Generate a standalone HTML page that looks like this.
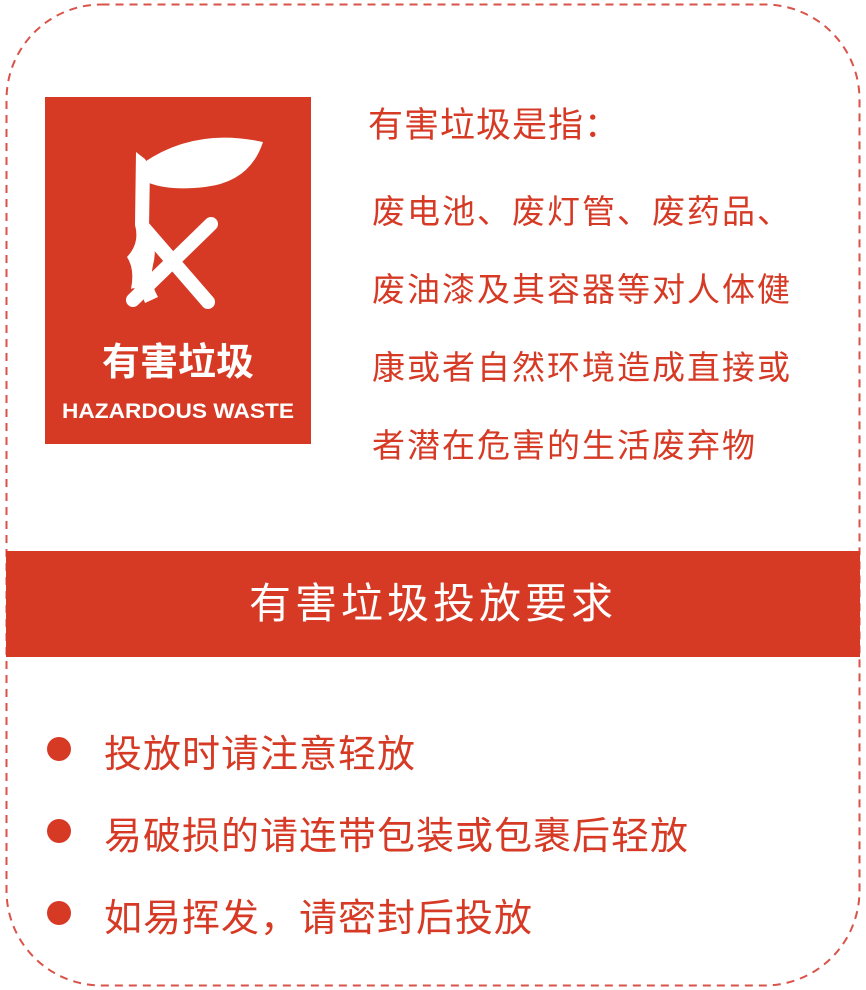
<!DOCTYPE html>
<html><head><meta charset="utf-8"><style>
html,body{margin:0;padding:0;background:#fff;}
body{width:866px;height:990px;overflow:hidden;position:relative;font-family:"Liberation Sans","Noto Sans CJK SC",sans-serif;}
.t{position:absolute;color:#d63a25;white-space:nowrap;}
</style></head><body>
<svg width="866" height="990" style="position:absolute;left:0;top:0">
<rect x="6.5" y="4.5" width="853" height="981" rx="95" ry="95" fill="none" stroke="#d9534a" stroke-width="2" stroke-dasharray="8,6"/>
</svg>
<svg width="266" height="347" style="position:absolute;left:45px;top:97px">
<rect width="266" height="347" fill="#d63a25"/>
<path d="M98 66 Q150 30 218 45 Q205 85 160 90 Q125 94 104 86 Z" fill="#fff"/>
<path d="M91 55 L100 62 L105 70 L104 130 Q113 150 108 168 Q104 185 113 200 L100 206 Q94 188 86 192 Q90 172 82 160 Q95 146 90 128 Z" fill="#fff"/>
<line x1="88" y1="203" x2="166" y2="127" stroke="#fff" stroke-width="14" stroke-linecap="round"/>
<line x1="98" y1="130" x2="163" y2="205" stroke="#fff" stroke-width="14" stroke-linecap="round"/>
<text x="133" y="278" text-anchor="middle" fill="#fff" font-size="38" font-weight="bold" font-family="Liberation Sans, Noto Sans CJK SC, sans-serif">有害垃圾</text>
<text x="17" y="321" textLength="232" lengthAdjust="spacingAndGlyphs" fill="#fff" font-size="21" font-weight="bold" font-family="Liberation Sans, sans-serif">HAZARDOUS WASTE</text>
</svg>
<div class="t" style="left:368px;top:97px;font-size:35px;letter-spacing:1px;">有害垃圾是指：</div>
<div class="t" style="left:372px;top:173px;font-size:33px;letter-spacing:2px;line-height:78px;">废电池、废灯管、废药品、<br>废油漆及其容器等对人体健<br>康或者自然环境造成直接或<br>者潜在危害的生活废弃物</div>
<div style="position:absolute;left:6px;top:551px;width:854px;height:106px;background:#d63a25;color:#fff;font-size:42px;letter-spacing:4px;line-height:106px;text-align:center;">有害垃圾投放要求</div>
<div class="t" style="left:104px;top:723px;font-size:38px;letter-spacing:1px;">投放时请注意轻放</div>
<div class="t" style="left:104px;top:805px;font-size:38px;letter-spacing:1px;">易破损的请连带包装或包裹后轻放</div>
<div class="t" style="left:104px;top:887px;font-size:38px;letter-spacing:1px;">如易挥发，请密封后投放</div>
<div style="position:absolute;left:47px;top:737px;width:24px;height:24px;border-radius:50%;background:#d63a25"></div>
<div style="position:absolute;left:47px;top:819px;width:24px;height:24px;border-radius:50%;background:#d63a25"></div>
<div style="position:absolute;left:47px;top:901px;width:24px;height:24px;border-radius:50%;background:#d63a25"></div>
</body></html>
